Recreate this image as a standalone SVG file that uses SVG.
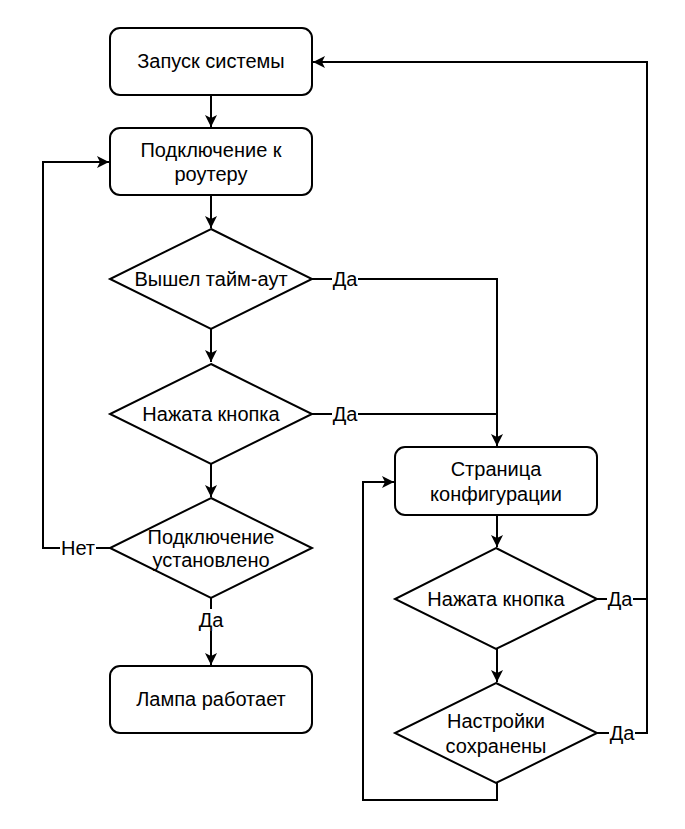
<svg xmlns="http://www.w3.org/2000/svg" width="685" height="829" viewBox="0 0 685 829">
<style>
.n{fill:#fff;stroke:#000;stroke-width:2}
.t{font-family:"Liberation Sans",Arial,sans-serif;font-size:20px;fill:#000;text-anchor:middle}
.c{fill:none;stroke:#000;stroke-width:2}
.lb{fill:#fff}
</style>
<defs>
<marker id="a" markerUnits="userSpaceOnUse" markerWidth="14" markerHeight="14" viewBox="0 0 14 14" refX="13" refY="7" orient="auto">
<path d="M1,1 L13,7 L1,13 L4,7 z" fill="#000"/>
</marker>
</defs>
<g id="connectors">
<path class="c" d="M211,95 V127" marker-end="url(#a)"/>
<path class="c" d="M211,195 V228" marker-end="url(#a)"/>
<path class="c" d="M211,329 V362" marker-end="url(#a)"/>
<path class="c" d="M211,464 V497" marker-end="url(#a)"/>
<path class="c" d="M211,598 V665" marker-end="url(#a)"/>
<path class="c" d="M110,548 H43 V162 H109" marker-end="url(#a)"/>
<path class="c" d="M312,279 H497 V446" marker-end="url(#a)"/>
<path class="c" d="M312,414 H497"/>
<path class="c" d="M497,515 V547" marker-end="url(#a)"/>
<path class="c" d="M497,648 V682" marker-end="url(#a)"/>
<path class="c" d="M497,783 V800 H363 V482 H394" marker-end="url(#a)"/>
<path class="c" d="M597,599 H647 V62 H313" marker-end="url(#a)"/>
<path class="c" d="M597,733 H647 V599"/>
<rect class="lb" x="332" y="268" width="26" height="22"/>
<text class="t" x="345" y="286">Да</text>
<rect class="lb" x="332" y="403" width="26" height="22"/>
<text class="t" x="345" y="421">Да</text>
<rect class="lb" x="60" y="537" width="36" height="22"/>
<text class="t" x="78" y="555">Нет</text>
<rect class="lb" x="198" y="609" width="26" height="22"/>
<text class="t" x="211" y="627">Да</text>
<rect class="lb" x="607" y="588" width="26" height="22"/>
<text class="t" x="620" y="606">Да</text>
<rect class="lb" x="609" y="722" width="26" height="22"/>
<text class="t" x="622" y="740">Да</text>
</g>
<g id="start">
<rect class="n" x="110" y="28" width="202" height="67" rx="10"/>
<text class="t" x="211" y="68">Запуск системы</text>
</g>
<g id="connect">
<rect class="n" x="110" y="128" width="202" height="67" rx="10"/>
<text class="t" x="211" y="157">Подключение к</text>
<text class="t" x="211" y="181">роутеру</text>
</g>
<g id="timeout">
<path class="n" d="M211,229 L312,279 L211,329 L110,279 Z"/>
<text class="t" x="211" y="286">Вышел тайм-аут</text>
</g>
<g id="button1">
<path class="n" d="M211,364 L312,414 L211,464 L110,414 Z"/>
<text class="t" x="211" y="421">Нажата кнопка</text>
</g>
<g id="connected">
<path class="n" d="M211,498 L312,548 L211,598 L110,548 Z"/>
<text class="t" x="211" y="544">Подключение</text>
<text class="t" x="211" y="567">установлено</text>
</g>
<g id="lamp">
<rect class="n" x="110" y="666" width="202" height="67" rx="10"/>
<text class="t" x="211" y="706">Лампа работает</text>
</g>
<g id="config">
<rect class="n" x="395" y="447" width="202" height="68" rx="10"/>
<text class="t" x="496" y="476">Страница</text>
<text class="t" x="496" y="501">конфигурации</text>
</g>
<g id="button2">
<path class="n" d="M496,548 L597,599 L496,649 L395,599 Z"/>
<text class="t" x="496" y="606">Нажата кнопка</text>
</g>
<g id="saved">
<path class="n" d="M496,683 L597,733 L496,783 L395,733 Z"/>
<text class="t" x="496" y="728">Настройки</text>
<text class="t" x="496" y="753">сохранены</text>
</g>
</svg>
